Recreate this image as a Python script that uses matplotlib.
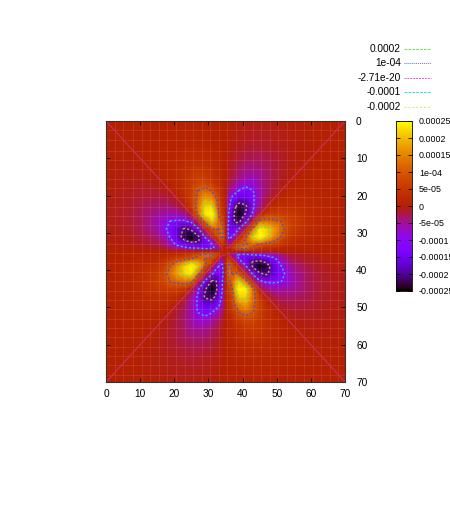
import numpy as np
import matplotlib
matplotlib.use("Agg")
import matplotlib.pyplot as plt
from matplotlib.lines import Line2D

plt.rcParams['font.family'] = ['Liberation Sans', 'DejaVu Sans']
plt.rcParams['font.size'] = 7.3

# distance from the centre (35,35) of the nodes
offsets = [0, 1, 2, 3, 4, 6, 8, 10, 12, 14, 16, 18, 20, 24, 28, 35]

# size of the field in units of 1e-5, row = offset along the lobe, column = offset across it
# the yellow lobes and the purple lobes differ, each set repeats four times round the centre
pos_lobe = [
    [0, 0, 0, 0, 0, 0, 0, 0, 0, 0, 0, 0, 0, 0, 0, 0],
    [0, 0, 0, 0, 0, 0, 0, 0, 0, 0, 0, 0, 0, 0, 0, 0],
    [0, 6, 0, 0, 0, 0, 0, 0, 0, 0, 0, 0, 0, 0, 0, 0],
    [0, 9, 5, 0, 0, 0, 0, 0, 0, 0, 0, 0, 0, 0, 0, 0],
    [0, 12, 8, 6, 0, 0, 0, 0, 0, 0, 0, 0, 0, 0, 0, 0],
    [0, 13, 9.5, 11, 9, 0, 0, 0, 0, 0, 0, 0, 0, 0, 0, 0],
    [0, 9, 12, 18, 21, 12, 0, 0, 0, 0, 0, 0, 0, 0, 0, 0],
    [0, 6, 10, 21, 26, 24, 12, 0, 0, 0, 0, 0, 0, 0, 0, 0],
    [0, 4, 8.5, 16, 22, 22, 13, 5, 0, 0, 0, 0, 0, 0, 0, 0],
    [0, 3, 7, 12, 16, 18, 11.5, 6, 2.5, 0, 0, 0, 0, 0, 0, 0],
    [0, 2.5, 5, 7.5, 10.5, 13, 10.5, 6, 3.5, 1.5, 0, 0, 0, 0, 0, 0],
    [0, 1.5, 3, 4.5, 6, 8, 7.5, 5.5, 3.5, 2, 1, 0, 0, 0, 0, 0],
    [0, 1, 2, 3, 4, 5.5, 6, 5, 3.5, 2.2, 1.3, 0.6, 0, 0, 0, 0],
    [0, 0.6, 1, 1.5, 2, 2.8, 3, 3, 2.5, 1.8, 1.2, 0.8, 0.4, 0, 0, 0],
    [0, 0.3, 0.5, 0.7, 0.9, 1.2, 1.4, 1.4, 1.3, 1.1, 0.8, 0.6, 0.4, 0.2, 0, 0],
    [0, 0.1, 0.1, 0.2, 0.2, 0.3, 0.4, 0.4, 0.4, 0.4, 0.3, 0.3, 0.2, 0.1, 0.1, 0],
]
neg_lobe = [
    [0, 0, 0, 0, 0, 0, 0, 0, 0, 0, 0, 0, 0, 0, 0, 0],
    [0, 0, 0, 0, 0, 0, 0, 0, 0, 0, 0, 0, 0, 0, 0, 0],
    [0, 6, 0, 0, 0, 0, 0, 0, 0, 0, 0, 0, 0, 0, 0, 0],
    [0, 9, 6, 0, 0, 0, 0, 0, 0, 0, 0, 0, 0, 0, 0, 0],
    [0, 12, 10, 7, 0, 0, 0, 0, 0, 0, 0, 0, 0, 0, 0, 0],
    [0, 13, 15, 13, 9, 0, 0, 0, 0, 0, 0, 0, 0, 0, 0, 0],
    [0, 11, 18, 21, 21, 11, 0, 0, 0, 0, 0, 0, 0, 0, 0, 0],
    [0, 10.5, 17, 23, 25.5, 19, 9, 0, 0, 0, 0, 0, 0, 0, 0, 0],
    [0, 9, 15, 20, 23, 21, 11, 5, 0, 0, 0, 0, 0, 0, 0, 0],
    [0, 7, 12, 15, 17, 17, 11, 6, 2.5, 0, 0, 0, 0, 0, 0, 0],
    [0, 4, 7, 9, 11, 13, 10.5, 6, 3.5, 2, 0, 0, 0, 0, 0, 0],
    [0, 2, 3.5, 5, 6.5, 8.5, 8, 5.5, 3.5, 2, 1, 0, 0, 0, 0, 0],
    [0, 1, 2, 3, 4, 5.5, 6, 5, 3.5, 2.2, 1.3, 0.6, 0, 0, 0, 0],
    [0, 0.6, 1, 1.5, 2, 2.8, 3, 3, 2.5, 1.8, 1.2, 0.8, 0.4, 0, 0, 0],
    [0, 0.3, 0.5, 0.7, 0.9, 1.2, 1.4, 1.4, 1.3, 1.1, 0.8, 0.6, 0.4, 0.2, 0, 0],
    [0, 0.1, 0.1, 0.2, 0.2, 0.3, 0.4, 0.4, 0.4, 0.4, 0.3, 0.3, 0.2, 0.1, 0.1, 0],
]

levels = [-0.0002, -0.0001, -2.71e-20, 1e-04, 0.0002]
legend_labels = ["0.0002", "1e-04", "-2.71e-20", "-0.0001", "-0.0002"]
legend_colors = ["#7ddc5a", "#6a6ae6", "#e060d8", "#40d8e8", "#e8e070"]
legend_styles = [(0, (3, 1)), (0, (1, 1)), (0, (2, 1)), (0, (3, 1)), (0, (2, 2))]
contour_colors = ["#c8aa55", "#38b4e8", "#d0306e", "#5a50b8", "#78dc46"]
cbar_ticks = [0.00025, 0.0002, 0.00015, 1e-04, 5e-05, 0, -5e-05, -0.0001, -0.00015, -0.0002, -0.00025]
cbar_labels = ["0.00025", "0.0002", "0.00015", "1e-04", "5e-05", "0", "-5e-05", "-0.0001", "-0.00015", "-0.0002", "-0.00025"]
axis_ticks = [0, 10, 20, 30, 40, 50, 60, 70]
lattice = [2.5, 5, 8, 10.5, 13, 15.5, 18, 20.5, 23, 25.5, 28, 30.5, 33, 35.5, 38, 40.5, 43, 45.5, 48, 50.5, 53, 55.5, 58, 60.5, 63, 65.5, 68]

W, H = 450.0, 518.0
fig = plt.figure(figsize=(W / 100, H / 100), dpi=100)

def px_axes(left, top, right, bottom):
    return fig.add_axes([left / W, 1 - bottom / H, (right - left) / W, (bottom - top) / H])

pos = np.array(pos_lobe, dtype=float) * 1e-5
neg = np.array(neg_lobe, dtype=float) * 1e-5
q_left = pos - neg.T
q_right = pos.T - neg
top = np.hstack([q_left[::-1, ::-1], q_right[::-1, 1:]])
bot = np.hstack([q_right[1:, ::-1], q_left[1:, 1:]])
field = np.vstack([top, bot])
coords = np.array(offsets, dtype=float)
coords = np.concatenate([35 - coords[::-1], 35 + coords[1:]])

ax = px_axes(106, 121, 345, 382)
mesh = ax.pcolormesh(coords, coords, field, cmap='gnuplot', vmin=-0.00025, vmax=0.00025, shading='gouraud')
ax.vlines(lattice, 0, 70, color='white', lw=0.8, alpha=0.09)
ax.hlines(lattice, 0, 70, color='white', lw=0.8, alpha=0.09)

# the zero level only shows along the diagonals in the picture
X, Y = np.meshgrid(coords, coords)
DX, DY = np.abs(X - 35), np.abs(Y - 35)
zero_only = np.ma.masked_where(np.abs(DX - DY) > 0.35 * np.maximum(DX, DY) + 1, field)
ax.contour(coords, coords, zero_only, levels=[levels[2]], colors=[contour_colors[2]], linewidths=0.7)
for i in [0, 1, 3, 4]:
    ax.contour(coords, coords, field, levels=[levels[i]], colors=[contour_colors[i]],
               linewidths=1.0, linestyles=[(0, (1.5, 1.5))])

ax.set_xlim(0, 70)
ax.set_ylim(70, 0)
ax.set_xticks(axis_ticks)
ax.set_yticks(axis_ticks)
ax.yaxis.tick_right()
ax.tick_params(direction='in', length=3, width=0.6, top=True, bottom=True, left=True, right=True, pad=8, labelright=True, labelleft=False)
ax.tick_params(axis='x', pad=5)
for s in ax.spines.values():
    s.set_linewidth(0.8)
    s.set_color('#333333')

cax = px_axes(396, 121, 412, 291)
cb = fig.colorbar(mesh, cax=cax)
cb.set_ticks(cbar_ticks)
cb.set_ticklabels(cbar_labels)
cax.tick_params(direction='in', length=3, width=0.6, left=True, right=True, pad=5, labelsize=6.4)
cb.outline.set_linewidth(0.6)

legend_y = [49, 63, 78, 92, 107]
for label, col, st, y in zip(legend_labels, legend_colors, legend_styles, legend_y):
    fig.text(401 / W, 1 - y / H, label, ha='right', va='center')
    fig.add_artist(Line2D([404 / W, 431 / W], [1 - y / H, 1 - y / H], color=col, lw=0.7, ls=st))

fig.savefig("out.png", dpi=100)
